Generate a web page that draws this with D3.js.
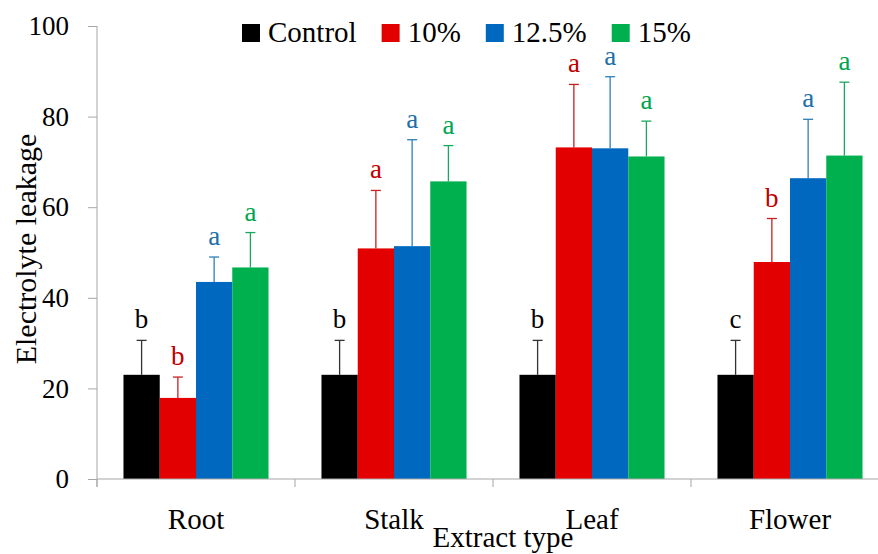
<!DOCTYPE html>
<html>
<head>
<meta charset="utf-8">
<script src="https://cdn.jsdelivr.net/npm/d3@7"></script>
<style>
  body { margin: 0; background: #fff; }
  text { font-family: "Liberation Serif", serif; }
</style>
</head>
<body>
<svg id="chart" width="878" height="554"></svg>
<script>
// data
const categories = ["Root", "Stalk", "Leaf", "Flower"];
const series = ["Control", "10%", "12.5%", "15%"];

const controlVals = [23, 23, 23, 23];
const p10Vals = [17.9, 50.9, 73.2, 47.9];
const p125Vals = [43.5, 51.4, 73.0, 66.4];
const p15Vals = [46.7, 65.7, 71.2, 71.4];

const controlErr = [7.6, 7.6, 7.6, 7.6];
const p10Err = [4.6, 12.8, 13.9, 9.6];
const p125Err = [5.5, 23.5, 15.8, 13.0];
const p15Err = [7.7, 7.9, 7.8, 16.2];

const controlLetters = ["b", "b", "b", "c"];
const p10Letters = ["b", "a", "a", "b"];
const p125Letters = ["a", "a", "a", "a"];
const p15Letters = ["a", "a", "a", "a"];

const yTicks = [0, 20, 40, 60, 80, 100];

const barColors = ["#000000", "#e30000", "#0068bf", "#00b04f"];
const letterColors = ["#000000", "#c00000", "#1e6fa8", "#00a54f"];
const errColors = ["#333333", "#c82020", "#2c7fb8", "#1aa860"];

const vals = [controlVals, p10Vals, p125Vals, p15Vals];
const errs = [controlErr, p10Err, p125Err, p15Err];
const letters = [controlLetters, p10Letters, p125Letters, p15Letters];

const rows = [];
categories.forEach((c, ci) => {
  series.forEach((s, si) => {
    rows.push({ cat: c, ser: s, si: si, value: vals[si][ci], err: errs[si][ci], letter: letters[si][ci] });
  });
});

const svg = d3.select("#chart");
svg.append("rect").attr("width", 878).attr("height", 554).attr("fill", "#fff");

const axisColor = "#a6a6a6";

const x0 = d3.scaleBand().domain(categories).range([97, 889]).padding(0);
const x1 = d3.scaleBand().domain(series).range([0, x0.bandwidth()]).paddingInner(0).paddingOuter(0.73);
const y = d3.scaleLinear().domain([0, 100]).range([479, 26]);

// y axis
const yAxis = svg.append("g")
  .attr("transform", "translate(97,0)")
  .call(d3.axisLeft(y).tickValues(yTicks).tickSize(9).tickPadding(19));
yAxis.select(".domain").attr("stroke", axisColor).attr("d", "M0," + y(100) + "V487");
yAxis.selectAll(".tick line").attr("stroke", axisColor);
yAxis.selectAll(".tick text")
  .attr("fill", "#000")
  .style("font-size", "27px")
  .style("font-family", "Liberation Serif, serif");

// bars
svg.append("g").selectAll("rect")
  .data(rows)
  .join("rect")
  .attr("x", d => x0(d.cat) + x1(d.ser))
  .attr("y", d => y(d.value))
  .attr("width", x1.bandwidth())
  .attr("height", d => y(0) - y(d.value))
  .attr("fill", d => barColors[d.si]);

// error bars (upper only)
const eb = svg.append("g").selectAll("g")
  .data(rows)
  .join("g")
  .attr("stroke", d => errColors[d.si])
  .attr("stroke-width", 1.3);
eb.append("line")
  .attr("x1", d => x0(d.cat) + x1(d.ser) + x1.bandwidth() / 2)
  .attr("x2", d => x0(d.cat) + x1(d.ser) + x1.bandwidth() / 2)
  .attr("y1", d => y(d.value))
  .attr("y2", d => y(d.value + d.err));
eb.append("line")
  .attr("x1", d => x0(d.cat) + x1(d.ser) + x1.bandwidth() / 2 - 5)
  .attr("x2", d => x0(d.cat) + x1(d.ser) + x1.bandwidth() / 2 + 5)
  .attr("y1", d => y(d.value + d.err))
  .attr("y2", d => y(d.value + d.err));

// significance letters
svg.append("g").selectAll("text")
  .data(rows)
  .join("text")
  .attr("x", d => x0(d.cat) + x1(d.ser) + x1.bandwidth() / 2)
  .attr("y", d => y(d.value + d.err) - 12)
  .attr("text-anchor", "middle")
  .attr("fill", d => letterColors[d.si])
  .style("font-size", "27px")
  .text(d => d.letter);

// x axis
const xAxis = svg.append("g");
xAxis.append("line")
  .attr("x1", 97).attr("x2", 878)
  .attr("y1", y(0)).attr("y2", y(0))
  .attr("stroke", axisColor);
xAxis.selectAll(".xt")
  .data(categories)
  .join("line")
  .attr("class", "xt")
  .attr("x1", d => x0(d)).attr("x2", d => x0(d))
  .attr("y1", y(0)).attr("y2", y(0) + 8)
  .attr("stroke", axisColor);
xAxis.selectAll(".xl")
  .data(categories)
  .join("text")
  .attr("class", "xl")
  .attr("x", d => x0(d) + x0.bandwidth() / 2)
  .attr("y", 529)
  .attr("text-anchor", "middle")
  .style("font-size", "29px")
  .text(d => d);

// axis titles
svg.append("text")
  .attr("x", 503).attr("y", 547)
  .attr("text-anchor", "middle")
  .style("font-size", "29px")
  .text("Extract type");

svg.append("text")
  .attr("transform", "translate(36,249) rotate(-90)")
  .attr("text-anchor", "middle")
  .style("font-size", "30px")
  .text("Electrolyte leakage");

// legend
const legend = svg.append("g").attr("transform", "translate(242,24)");
let lx = 0;
series.forEach((s, i) => {
  const g = legend.append("g").attr("transform", `translate(${lx},0)`);
  g.append("rect").attr("width", 18).attr("height", 18).attr("fill", barColors[i]);
  const t = g.append("text")
    .attr("x", 26).attr("y", 18)
    .style("font-size", "29px")
    .text(s);
  lx += 26 + t.node().getComputedTextLength() + 25;
});
</script>
</body>
</html>
